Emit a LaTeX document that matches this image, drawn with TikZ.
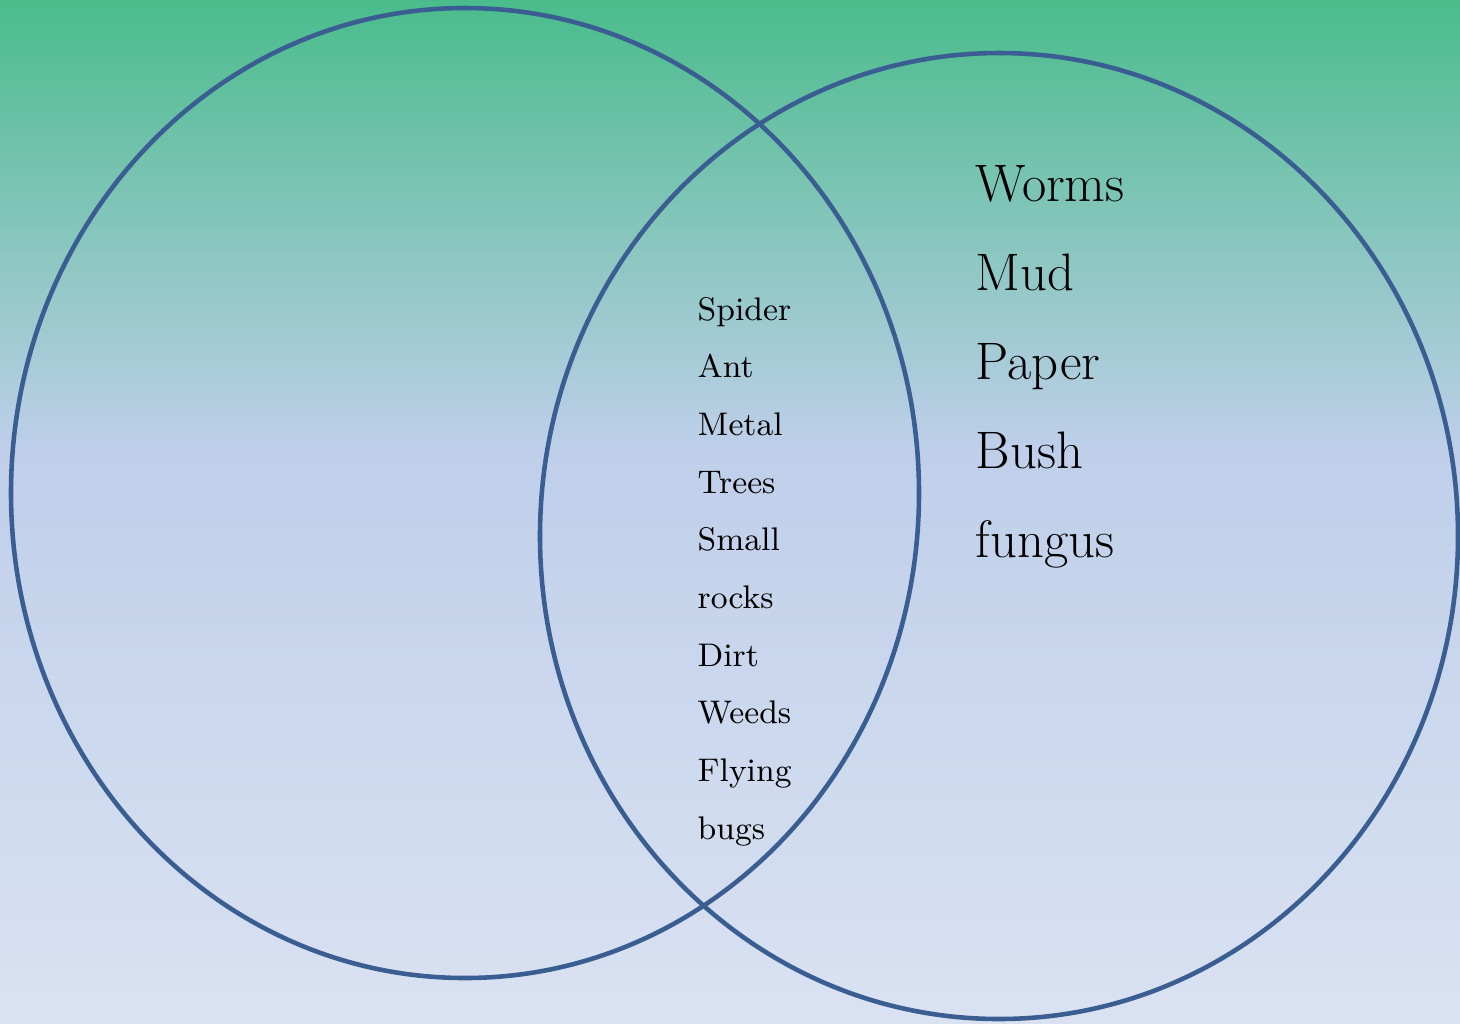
\documentclass[tikz,border=0pt]{standalone}
\usepackage{tikz}
\definecolor{bgtop}{RGB}{74,188,140}
\definecolor{bgmid}{RGB}{191,207,234}
\definecolor{bgbot}{RGB}{218,226,242}
\definecolor{ringblue}{RGB}{58,94,146}

\begin{document}
\begin{tikzpicture}[x=0.01cm, y=-0.01cm,
  ring/.style={draw=ringblue, line width=1.3pt},
  smallitem/.style={anchor=base west, inner sep=0pt, font=\fontsize{9.3}{11}\selectfont},
  bigitem/.style={anchor=base west, inner sep=0pt, font=\fontsize{15}{18}\selectfont}
]
  %% Background gradient
  \useasboundingbox (0,0) rectangle (1460,1023);
  \shade[top color=bgtop, bottom color=bgmid] (0,0) rectangle (1460,450);
  \shade[top color=bgmid, bottom color=bgbot] (0,449) rectangle (1460,1023);

  %% The two sets
  \draw[ring] (465,493) ellipse [x radius=454, y radius=485];
  \draw[ring] (999,536) ellipse [x radius=459, y radius=483];

  %% Shared items (overlap)
  \foreach \word [count=\i] in {Spider, Ant, Metal, Trees, Small, rocks, Dirt, Weeds, Flying, bugs}
    \node[smallitem] (both\i) at (697, {320 + (\i-1)*57.7}) {\word};

  %% Right-only items
  \foreach \word [count=\i] in {Worms, Mud, Paper, Bush, fungus}
    \node[bigitem] (right\i) at (975, {201 + (\i-1)*89.2}) {\word};
\end{tikzpicture}
\end{document}
